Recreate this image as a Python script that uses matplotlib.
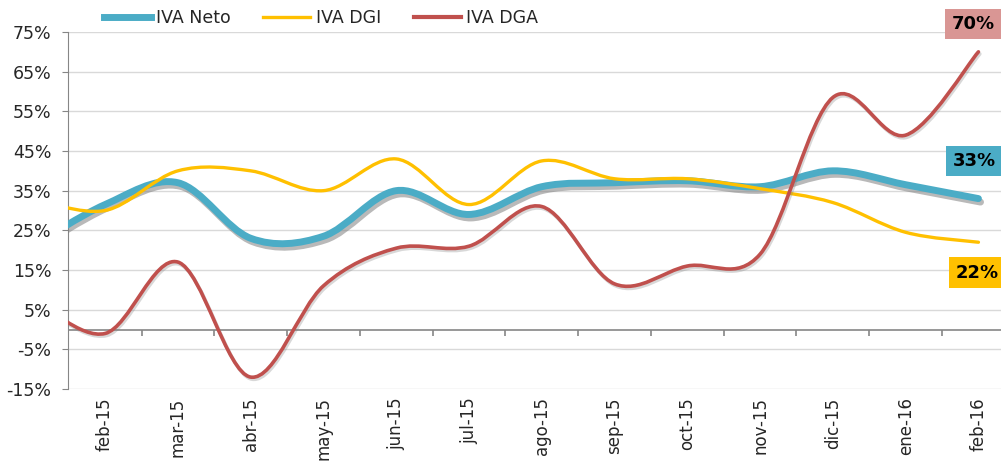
import matplotlib
matplotlib.use("Agg")
import matplotlib.pyplot as plt
import matplotlib.patheffects as pe
from matplotlib.lines import Line2D
from matplotlib.path import Path
from matplotlib.patches import PathPatch
import numpy as np

plt.rcParams["font.family"] = ["DejaVu Sans"]

# first point (ene-15) sits left of the visible plot area
months = ["ene-15", "feb-15", "mar-15", "abr-15", "may-15", "jun-15", "jul-15",
          "ago-15", "sep-15", "oct-15", "nov-15", "dic-15", "ene-16", "feb-16"]
iva_neto = [21, 31.5, 37, 23, 23.5, 35, 29, 36, 37, 37.5, 36, 40, 36.5, 33]
iva_dgi = [33, 30, 40, 40, 35, 43, 31.5, 42.5, 38, 38, 35.5, 32, 24.5, 22]
iva_dga = [8, -1, 17, -12, 11, 20.5, 21, 31, 11.5, 16, 19, 58.5, 49, 70]
y_ticks = list(range(-15, 80, 10))

C_NETO = "#4BACC6"
C_DGI = "#FFC000"
C_DGA = "#C0504D"
TXT = "#262626"


def smooth_path(xs, ys):
    """Excel-style smoothed line: cubic Bezier through every point."""
    pts = np.column_stack([xs, ys]).astype(float)
    pad = np.vstack([pts[0], pts, pts[-1]])
    verts = [pts[0]]
    codes = [Path.MOVETO]
    for i in range(len(pts) - 1):
        p0, p1, p2, p3 = pad[i], pad[i + 1], pad[i + 2], pad[i + 3]
        verts += [p1 + (p2 - p0) / 6, p2 - (p3 - p1) / 6, p2]
        codes += [Path.CURVE4] * 3
    return Path(verts, codes)


fig = plt.figure(figsize=(10.01, 4.61), dpi=100)
ax = fig.add_axes([68 / 1001, 1 - 389 / 461, 933 / 1001, 357 / 461])

x = np.arange(len(months))

ax.set_ylim(-15, 75)
ax.set_xlim(0.49, 13.31)
ax.set_yticks(y_ticks)
ax.set_yticklabels([f"{v}%" for v in y_ticks], fontsize=12.5, color=TXT)
ax.grid(axis="y", color="#D9D9D9", lw=1)
ax.set_axisbelow(True)
for s in ["top", "right", "bottom"]:
    ax.spines[s].set_visible(False)
ax.spines["left"].set_color("#868686")
ax.tick_params(axis="y", length=4, color="#868686", pad=8)

ax.set_xticks(x[1:])
ax.set_xticklabels(months[1:], rotation=90, fontsize=12, color=TXT)
ax.tick_params(axis="x", length=0, pad=6)

# category axis crossing at zero, with tick marks between categories
ax.axhline(0, color="#868686", lw=1.2, zorder=2)
ax.vlines(x[1:-1] + 0.5, -1.6, 0, color="#868686", lw=1.2, zorder=2)

shadow = [pe.SimpleLineShadow(offset=(1.5, -2.5), shadow_color="gray", alpha=0.55), pe.Normal()]
light_shadow = [pe.SimpleLineShadow(offset=(1, -1.5), shadow_color="gray", alpha=0.3), pe.Normal()]

series = [
    (iva_neto, C_NETO, 5.0, shadow),
    (iva_dgi, C_DGI, 2.4, None),
    (iva_dga, C_DGA, 2.6, light_shadow),
]
for vals, col, lw, eff in series:
    patch = PathPatch(smooth_path(x, vals), facecolor="none", edgecolor=col,
                      lw=lw, capstyle="round", joinstyle="round", zorder=3)
    if eff:
        patch.set_path_effects(eff)
    ax.add_patch(patch)

# end-of-series value labels
end_labels = [
    (iva_dga, "#D99694", (-4, 20)),
    (iva_neto, C_NETO, (-3, 27)),
    (iva_dgi, C_DGI, (-1, -22)),
]
for vals, col, off in end_labels:
    ax.annotate(f"{vals[-1]:.0f}%", xy=(x[-1], vals[-1]), xytext=off,
                textcoords="offset points", ha="center", va="center",
                fontsize=13, fontweight="bold", color="black", annotation_clip=False,
                bbox=dict(boxstyle="square,pad=0.35", fc=col, ec="none"), zorder=5)

handles = [
    Line2D([], [], color=C_NETO, lw=5),
    Line2D([], [], color=C_DGI, lw=2.4),
    Line2D([], [], color=C_DGA, lw=3),
]
fig.legend(handles, ["IVA Neto", "IVA DGI", "IVA DGA"], ncol=3, frameon=False,
           loc="center left", bbox_to_anchor=(88 / 1001, 1 - 18 / 461),
           fontsize=12.5, handlelength=2.7, handletextpad=0.3, columnspacing=1.9,
           labelcolor=TXT)

fig.savefig("out.png", dpi=100)
